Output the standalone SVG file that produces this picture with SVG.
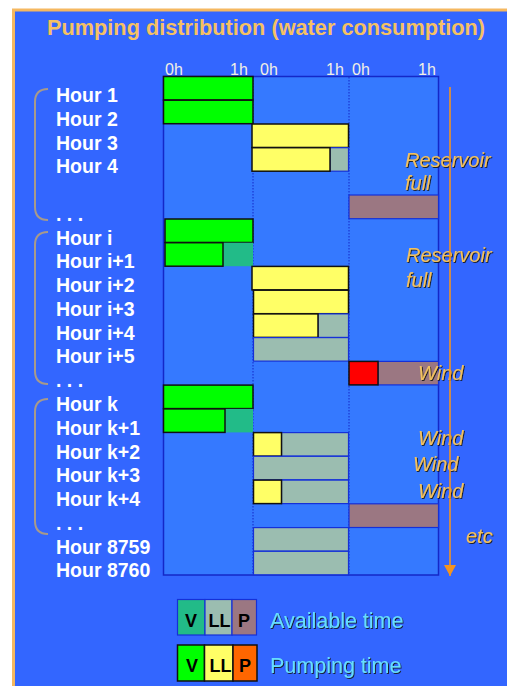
<svg xmlns="http://www.w3.org/2000/svg" width="507" height="686" viewBox="0 0 507 686">
  <defs>
    <filter id="sh" x="-10%" y="-20%" width="130%" height="150%">
      <feDropShadow dx="0.9" dy="0.9" stdDeviation="0.2" flood-color="#151515" flood-opacity="1"/>
    </filter>
    <marker id="arr" viewBox="0 0 12 12" refX="11" refY="6" markerWidth="12" markerHeight="12" markerUnits="userSpaceOnUse" orient="auto">
      <path d="M0,0 L11,6 L0,12 Z" fill="#F39422"/>
    </marker>
  </defs>
  <style>
    .title { font-family: "Liberation Sans", Arial, sans-serif; font-weight: bold; font-size: 21.5px; fill: #F5C163; }
    .hour { font-family: "Liberation Sans", Arial, sans-serif; font-weight: bold; font-size: 19.5px; fill: #FFFFFF; }
    .tick { font-family: "Liberation Sans", Arial, sans-serif; font-size: 16px; fill: #F2F0E4; }
    .note { font-family: "Liberation Sans", Arial, sans-serif; font-style: italic; font-size: 20px; fill: #F2C160; filter: url(#sh); }
    .leg { font-family: "Liberation Sans", Arial, sans-serif; font-size: 21.5px; fill: #66DDFF; filter: url(#sh); }
    .cell { font-family: "Liberation Sans", Arial, sans-serif; font-weight: bold; font-size: 18px; fill: #000000; text-anchor: middle; }
    .brk { fill: none; stroke: #A89A8A; stroke-width: 2; }
    .pump { stroke: #111111; stroke-width: 1.5; }
    .avail { stroke: #1530D8; stroke-width: 1.2; }
    .g { fill: #00FF00; }
    .y { fill: #FFFF66; }
    .gr { fill: #9BBDB0; }
    .pu { fill: #9B7782; }
    .te { fill: #22BB88; }
    .r { fill: #FF0000; }
    .o { fill: #FF6600; }
  </style>

  <!-- panel -->
  <rect x="13.5" y="10" width="600" height="700" fill="#3366FF" stroke="#F5B860" stroke-width="3"/>

  <text class="title" x="266" y="35" text-anchor="middle" textLength="438" lengthAdjust="spacingAndGlyphs">Pumping distribution (water consumption)</text>

  <!-- chart frame -->
  <g id="chart">
    <rect x="163.5" y="76.5" width="275" height="498.5" fill="#3579FF" stroke="#1428C8" stroke-width="1.5"/>
    <line x1="253" y1="77" x2="253" y2="575" stroke="#1428C8" stroke-width="1" stroke-dasharray="1.5,1.5"/>
    <line x1="349" y1="77" x2="349" y2="575" stroke="#1428C8" stroke-width="1" stroke-dasharray="1.5,1.5"/>
    <text class="tick" x="165" y="75">0h</text>
    <text class="tick" x="230" y="75">1h</text>
    <text class="tick" x="260" y="75">0h</text>
    <text class="tick" x="326" y="75">1h</text>
    <text class="tick" x="352" y="75">0h</text>
    <text class="tick" x="418" y="75">1h</text>
  </g>

  <!-- hour labels -->
  <g id="labels">
    <text class="hour" x="56" y="102">Hour 1</text>
    <text class="hour" x="56" y="125.5">Hour 2</text>
    <text class="hour" x="56" y="149.5">Hour 3</text>
    <text class="hour" x="56" y="173">Hour 4</text>
    <text class="hour" x="56" y="220.5">. . .</text>
    <text class="hour" x="56" y="244.5">Hour i</text>
    <text class="hour" x="56" y="268">Hour i+1</text>
    <text class="hour" x="56" y="292">Hour i+2</text>
    <text class="hour" x="56" y="315.5">Hour i+3</text>
    <text class="hour" x="56" y="339.5">Hour i+4</text>
    <text class="hour" x="56" y="363">Hour i+5</text>
    <text class="hour" x="56" y="387">. . .</text>
    <text class="hour" x="56" y="411">Hour k</text>
    <text class="hour" x="56" y="434.5">Hour k+1</text>
    <text class="hour" x="56" y="458.5">Hour k+2</text>
    <text class="hour" x="56" y="482">Hour k+3</text>
    <text class="hour" x="56" y="505.5">Hour k+4</text>
    <text class="hour" x="56" y="530">. . .</text>
    <text class="hour" x="56" y="553.5">Hour 8759</text>
    <text class="hour" x="56" y="577">Hour 8760</text>
  </g>

  <!-- brackets -->
  <g id="bracket1"><path class="brk" d="M48,89 Q35,89 35,102 L35,207 Q35,220 48,220"/></g>
  <g id="bracket2"><path class="brk" d="M48,232 Q35,232 35,245 L35,371 Q35,384 48,384"/></g>
  <g id="bracket3"><path class="brk" d="M48,399 Q35,399 35,412 L35,521 Q35,534 48,534"/></g>

  <!-- column 1 (green) -->
  <g id="col1">
    <rect class="g pump" x="163.5" y="76.5" width="89.5" height="23.5"/>
    <rect class="g pump" x="163.5" y="100.2" width="89.5" height="23.5"/>
    <rect class="g pump" x="165" y="219" width="88" height="23.5"/>
    <rect class="te" x="223" y="242.7" width="30" height="23.5"/>
    <rect class="g pump" x="165" y="242.7" width="58" height="23.5"/>
    <rect class="g pump" x="163.5" y="385.1" width="89.5" height="23.5"/>
    <rect class="te" x="225" y="408.9" width="28" height="23.5"/>
    <rect class="g pump" x="163.5" y="408.9" width="61.5" height="23.5"/>
  </g>

  <!-- column 2 (yellow / grey) -->
  <g id="col2">
    <rect class="y pump" x="252" y="124" width="96.5" height="23.5"/>
    <rect class="gr avail" x="330" y="147.7" width="18.5" height="23.5"/>
    <rect class="y pump" x="252" y="147.7" width="78" height="23.5"/>

    <rect class="y pump" x="252" y="266.4" width="96.5" height="23.5"/>
    <rect class="y pump" x="253.5" y="290.2" width="95" height="23.5"/>
    <rect class="gr avail" x="318" y="313.9" width="30.5" height="23.5"/>
    <rect class="y pump" x="253.5" y="313.9" width="64.5" height="23.5"/>
    <rect class="gr avail" x="253.5" y="337.6" width="95" height="23.5"/>

    <rect class="gr avail" x="281.5" y="432.6" width="67" height="23.5"/>
    <rect class="y pump" x="253.5" y="432.6" width="28" height="23.5"/>
    <rect class="gr avail" x="253.5" y="456.3" width="95" height="23.5"/>
    <rect class="gr avail" x="281.5" y="480.1" width="67" height="23.5"/>
    <rect class="y pump" x="253.5" y="480.1" width="28" height="23.5"/>

    <rect class="gr avail" x="253.5" y="527.6" width="95" height="23.5"/>
    <rect class="gr avail" x="253.5" y="551.3" width="95" height="23.5"/>
  </g>

  <!-- column 3 (purple / red) -->
  <g id="col3">
    <rect class="pu avail" x="349" y="195" width="89.5" height="23.7"/>
    <rect class="pu avail" x="378" y="361.4" width="60.5" height="23.5"/>
    <rect class="r pump" x="349" y="361.4" width="29" height="23.5"/>
    <rect class="pu avail" x="349" y="503.8" width="89.5" height="23.7"/>
  </g>

  <!-- notes -->
  <g id="notes">
    <text class="note" x="405" y="167">Reservoir</text>
    <text class="note" x="405" y="190">full</text>
    <text class="note" x="406" y="262">Reservoir</text>
    <text class="note" x="406" y="287">full</text>
    <text class="note" x="418" y="380">Wind</text>
    <text class="note" x="418" y="445">Wind</text>
    <text class="note" x="413" y="471">Wind</text>
    <text class="note" x="418" y="498">Wind</text>
    <text class="note" x="466" y="542.5">etc</text>
  </g>

  <!-- connectors -->
  <g id="connectors">
    <line x1="450" y1="87" x2="450" y2="576" stroke="#F39422" stroke-width="1.6" marker-end="url(#arr)"/>
  </g>

  <!-- legend -->
  <g id="legend-available">
    <rect class="te avail" x="177.5" y="599.5" width="27.5" height="35.5" stroke-width="1.8"/>
    <rect class="gr avail" x="205" y="599.5" width="27" height="35.5" stroke-width="1.8"/>
    <rect class="pu avail" x="232" y="599.5" width="24.5" height="35.5" stroke-width="1.8"/>
    <text class="cell" x="191" y="626.5">V</text>
    <text class="cell" x="219.5" y="626.5">LL</text>
    <text class="cell" x="244" y="626.5">P</text>
    <text class="leg" x="270" y="627.5">Available time</text>
  </g>
  <g id="legend-pumping">
    <rect class="g pump" x="177.5" y="645" width="27" height="36" stroke-width="2.2"/>
    <rect class="y pump" x="204.5" y="645" width="28.5" height="36" stroke-width="2.2"/>
    <rect class="o pump" x="233" y="645" width="24" height="36" stroke-width="2.2"/>
    <text class="cell" x="192" y="671.5">V</text>
    <text class="cell" x="220.5" y="671.5">LL</text>
    <text class="cell" x="245" y="671.5">P</text>
    <text class="leg" x="270" y="673">Pumping time</text>
  </g>
</svg>
